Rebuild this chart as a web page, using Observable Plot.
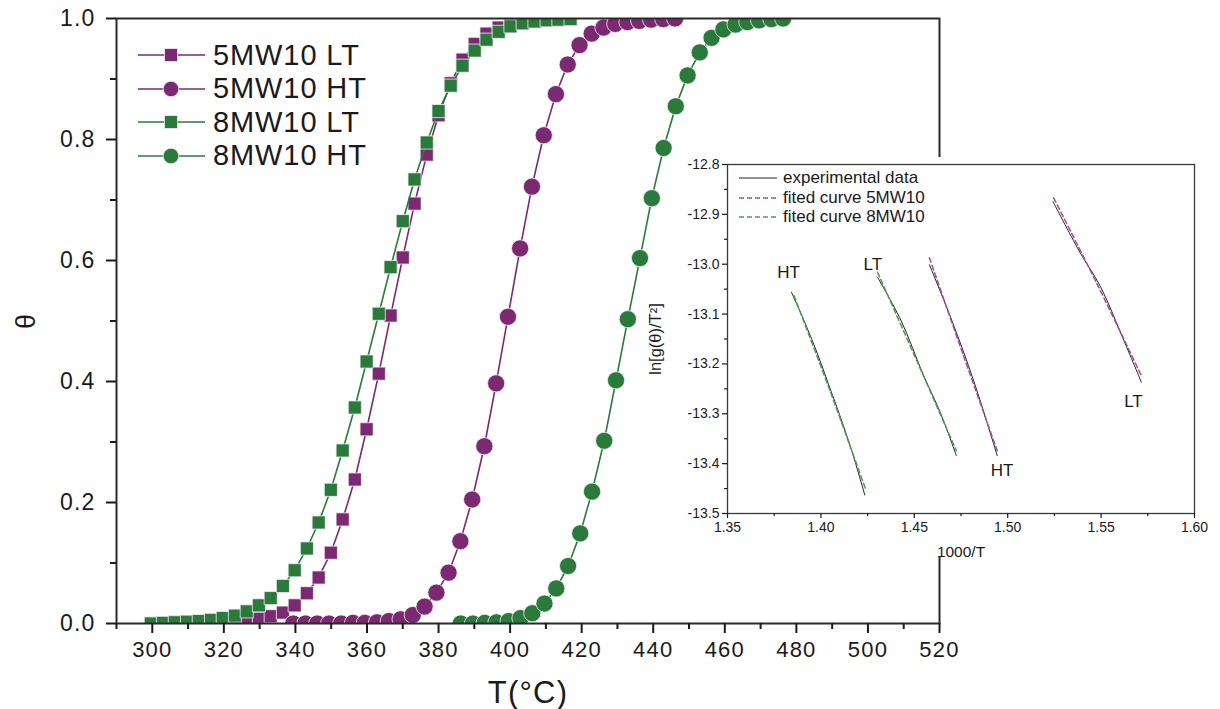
<!DOCTYPE html>
<html><head><meta charset="utf-8">
<script src="https://cdn.jsdelivr.net/npm/d3@7"></script>
<script src="https://cdn.jsdelivr.net/npm/@observablehq/plot@0.6"></script>
<style>
body{margin:0;background:#fff;font-family:"Liberation Sans",Arial,sans-serif;color:#1a1a1a}
#wrap{position:relative;width:1220px;height:709px;overflow:hidden;background:#fff}
#main{position:absolute;left:0;top:0}
#cover{position:absolute;left:700px;top:157px;width:520px;height:400px;background:#fff}
#inset{position:absolute;left:645px;top:150px}
.lg{position:absolute;display:flex;align-items:center;white-space:nowrap}
</style></head>
<body><div id="wrap"><div id="main"></div><div id="cover"></div><div id="inset"></div><div id="legs"></div></div>
<script>
// ---------- main chart data ----------
const tLT = [299.6,303.0,306.3,309.7,313.0,316.4,319.7,323.1,326.4,329.8,333.1,336.5,339.8,343.2,346.5,349.9,353.2,356.6,359.9,363.3,366.6,370.0,373.3,376.7,380.0,383.4,386.7,390.1,393.4,396.8,400.1,403.5,406.8,410.2,413.5,416.9];
const theta5LT = [0.000,0.000,0.000,0.000,0.001,0.001,0.002,0.003,0.005,0.008,0.012,0.018,0.030,0.050,0.076,0.117,0.172,0.238,0.321,0.413,0.509,0.605,0.694,0.775,0.840,0.893,0.932,0.958,0.975,0.985,0.991,0.995,0.997,0.998,0.999,1.000];
const theta8LT = [0.000,0.001,0.002,0.003,0.004,0.006,0.009,0.013,0.020,0.030,0.042,0.062,0.088,0.124,0.167,0.221,0.286,0.357,0.433,0.512,0.589,0.665,0.734,0.795,0.847,0.889,0.922,0.947,0.965,0.978,0.987,0.992,0.995,0.997,0.998,0.999];
const t5HT = [339.4,342.8,346.1,349.4,352.8,356.1,359.4,362.8,366.1,369.4,372.8,376.1,379.4,382.8,386.1,389.4,392.8,396.1,399.4,402.8,406.1,409.4,412.8,416.1,419.4,422.8,426.1,429.4,432.8,436.1,439.4,442.8,446.1];
const theta5HT = [0.000,0.000,0.000,0.000,0.000,0.001,0.001,0.002,0.004,0.007,0.014,0.028,0.051,0.084,0.136,0.205,0.293,0.397,0.507,0.620,0.722,0.807,0.875,0.924,0.956,0.975,0.985,0.991,0.994,0.996,0.998,0.999,1.000];
const t8HT = [386.2,389.6,392.9,396.2,399.6,402.9,406.2,409.6,412.9,416.2,419.6,422.9,426.3,429.6,432.9,436.3,439.6,442.9,446.3,449.6,453.0,456.3,459.6,463.0,466.3,469.6,473.0,476.3];
const theta8HT = [0.000,0.000,0.001,0.002,0.004,0.009,0.017,0.033,0.058,0.095,0.149,0.218,0.302,0.402,0.503,0.604,0.703,0.786,0.855,0.906,0.944,0.968,0.982,0.990,0.994,0.997,0.999,1.000];
const seriesNames = ["5MW10 LT","5MW10 HT","8MW10 LT","8MW10 HT"];
const seriesColors = ["#7b2a72","#7b2a72","#2a7a3b","#2a7a3b"];
const seriesSymbols = ["square","circle","square","circle"];
const xMajor = [300,320,340,360,380,400,420,440,460,480,500,520];
const xMinor = [290,310,330,350,370,390,410,430,450,470,490,510];
const yMajor = [0,0.2,0.4,0.6,0.8,1.0];
const yMinor = [0.1,0.3,0.5,0.7,0.9];

// ---------- inset data ----------
const expA_x = [1.3842,1.3915,1.3982,1.4040,1.4099,1.4170,1.4235];
const expA_y = [-13.056,-13.118,-13.180,-13.240,-13.301,-13.380,-13.463];
const fitA_x = [1.3856,1.4045,1.4239];
const fitA_y = [-13.063,-13.250,-13.451];
const expB_x = [1.4303,1.4429,1.4546,1.4643,1.4725];
const expB_y = [-13.026,-13.113,-13.220,-13.301,-13.384];
const fitB_x = [1.4303,1.4515,1.4725];
const fitB_y = [-13.016,-13.195,-13.374];
const expC_x = [1.4581,1.4701,1.4818,1.4944];
const expC_y = [-13.001,-13.113,-13.234,-13.384];
const fitC_x = [1.4581,1.4760,1.4944];
const fitC_y = [-12.987,-13.180,-13.374];
const expD_x = [1.5242,1.5382,1.5498,1.5615,1.5716];
const expD_y = [-12.874,-12.973,-13.046,-13.147,-13.237];
const fitD_x = [1.5246,1.5479,1.5716];
const fitD_y = [-12.867,-13.040,-13.224];
const regionLabels = ["HT","LT","HT","LT"];
const regionLabelX = [1.3827,1.4278,1.4970,1.5673];
const regionLabelY = [-13.017,-13.001,-13.414,-13.275];
const insetXMajor = [1.35,1.40,1.45,1.50,1.55,1.60];
const insetXMinor = [1.375,1.425,1.475,1.525,1.575];
const insetYMajor = [-12.8,-12.9,-13.0,-13.1,-13.2,-13.3,-13.4,-13.5];
const insetYMinor = [-12.85,-12.95,-13.05,-13.15,-13.25,-13.35,-13.45];
const insetLegendNames = ["experimental data","fited curve 5MW10","fited curve 8MW10"];
const insetLegendColors = ["#222","#a04f99","#4f9a55"];
const insetLegendDash = ["none","5,3","5,3"];

const zip = (xs, ys) => xs.map((x, i) => ({x, y: ys[i]}));
const FONT = "'Liberation Sans', Arial, Helvetica, sans-serif";

const series = [zip(tLT, theta5LT), zip(t5HT, theta5HT), zip(tLT, theta8LT), zip(t8HT, theta8HT)];
const dataMarks = [];
series.forEach((rows, i) => {
  dataMarks.push(Plot.line(rows, {x: "x", y: "y", stroke: seriesColors[i], strokeWidth: 1.6, clip: true}));
  dataMarks.push(Plot.dot(rows, {x: "x", y: "y", symbol: seriesSymbols[i], r: seriesSymbols[i] === "square" ? 7.4 : 8.6,
    fill: seriesColors[i], stroke: "#f4eef4", strokeWidth: 0.8, clip: true}));
});

const main = Plot.plot({
  width: 1220, height: 709,
  marginLeft: 116, marginRight: 281, marginTop: 18, marginBottom: 86,
  style: {fontFamily: FONT, fontSize: "22px", color: "#1a1a1a", background: "transparent", letterSpacing: "1.2px"},
  x: {domain: [290, 520]},
  y: {domain: [0, 1]},
  marks: [
    ...dataMarks,
    Plot.frame({stroke: "#2a2a2a", strokeWidth: 2}),
    Plot.axisX({ticks: xMajor, tickSize: 10, tickPadding: 8, strokeWidth: 2, tickFormat: d => String(d), label: null}),
    Plot.axisX({ticks: xMinor, tickSize: 6, strokeWidth: 2, tickFormat: () => "", label: null}),
    Plot.axisX({ticks: [], label: "T(°C)", labelAnchor: "center", labelOffset: 79, fontSize: 31, labelArrow: "none"}),
    Plot.axisY({ticks: yMajor, tickSize: 10, tickPadding: 11, strokeWidth: 2, fontSize: 23, tickFormat: d => d.toFixed(1), label: null}),
    Plot.axisY({ticks: yMinor, tickSize: 6, strokeWidth: 2, tickFormat: () => "", label: null}),
    Plot.axisY({ticks: [], label: "θ", labelAnchor: "center", labelOffset: 101, fontSize: 27, labelArrow: "none"})
  ]
});
document.getElementById("main").appendChild(main);

const insetMarks = [
  ...[[expA_x, expA_y], [expB_x, expB_y], [expC_x, expC_y], [expD_x, expD_y]].map(([xs, ys]) =>
    Plot.line(zip(xs, ys), {x: "x", y: "y", stroke: "#222", strokeWidth: 1, curve: "catmull-rom"})),
  ...[[fitA_x, fitA_y, 2], [fitB_x, fitB_y, 2], [fitC_x, fitC_y, 1], [fitD_x, fitD_y, 1]].map(([xs, ys, c]) =>
    Plot.line(zip(xs, ys), {x: "x", y: "y", stroke: insetLegendColors[c], strokeWidth: 1.5, strokeDasharray: "5,3", curve: "catmull-rom"})),
  Plot.text(regionLabels.map((t, i) => ({t, x: regionLabelX[i], y: regionLabelY[i]})), {x: "x", y: "y", text: "t", fontSize: 17, fill: "#1a1a1a"}),
  Plot.frame({stroke: "#3a3a3a", strokeWidth: 1.3}),
  Plot.axisX({ticks: insetXMajor, tickSize: 5, tickPadding: 4, strokeWidth: 1.2, tickFormat: d => d.toFixed(2), label: null}),
  Plot.axisX({ticks: insetXMinor, tickSize: 3, strokeWidth: 1.2, tickFormat: () => "", label: null}),
  Plot.axisX({ticks: [], label: "1000/T", labelAnchor: "center", labelOffset: 43, fontSize: 15.5, labelArrow: "none"}),
  Plot.axisY({ticks: insetYMajor, tickSize: 5, tickPadding: 3, strokeWidth: 1.2, tickFormat: d => d.toFixed(1), label: null}),
  Plot.axisY({ticks: insetYMinor, tickSize: 3, strokeWidth: 1.2, tickFormat: () => "", label: null}),
  Plot.axisY({ticks: [], label: "ln[g(θ)/T²]", labelAnchor: "center", labelOffset: 78, fontSize: 16.5, labelArrow: "none"})
];
const inset = Plot.plot({
  width: 575, height: 410,
  marginLeft: 82, marginRight: 26, marginTop: 14, marginBottom: 47,
  style: {fontFamily: FONT, fontSize: "14px", color: "#1a1a1a", background: "transparent"},
  x: {domain: [1.35, 1.60]},
  y: {domain: [-13.5, -12.8]},
  marks: insetMarks
});
document.getElementById("inset").appendChild(inset);

// ---------- legends (HTML) ----------
const legs = document.getElementById("legs");
seriesNames.forEach((name, i) => {
  const row = document.createElement("div");
  row.className = "lg";
  row.style.left = "138px"; row.style.top = (38 + i * 33.6) + "px"; row.style.height = "34px";
  const sym = seriesSymbols[i] === "square"
    ? `<rect x="26.5" y="10.5" width="13" height="13" fill="${seriesColors[i]}" stroke="#f4eef4" stroke-width="0.8"/>`
    : `<circle cx="33" cy="17" r="7.8" fill="${seriesColors[i]}" stroke="#f4eef4" stroke-width="0.8"/>`;
  row.innerHTML = `<svg width="75" height="34"><line x1="0" x2="67" y1="17" y2="17" stroke="${seriesColors[i]}" stroke-width="1.6"/>${sym}</svg>` +
    `<span style="font-size:29px;letter-spacing:0.9px">${name}</span>`;
  legs.appendChild(row);
});
insetLegendNames.forEach((name, i) => {
  const row = document.createElement("div");
  row.className = "lg";
  row.style.left = "739px"; row.style.top = (168 + i * 19.5) + "px"; row.style.height = "20px";
  row.innerHTML = `<svg width="44" height="20"><line x1="0" x2="38" y1="10" y2="10" stroke="${insetLegendColors[i]}" stroke-width="${i ? 1.5 : 1}" ${i ? `stroke-dasharray="${insetLegendDash[i]}"` : ""}/></svg>` +
    `<span style="font-size:17px">${name}</span>`;
  legs.appendChild(row);
});
</script></body></html>
